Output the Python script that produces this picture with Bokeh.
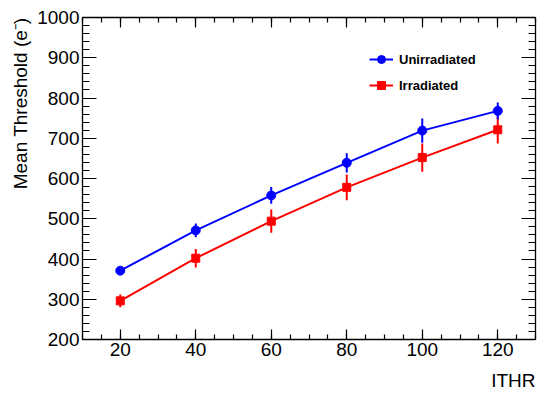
from bokeh.plotting import figure
from bokeh.models import (LinearAxis, SingleIntervalTicker, Title, Legend, LegendItem,
                          Range1d, ColumnDataSource)
from bokeh.embed import file_html
from bokeh.resources import INLINE

# ---- data ----
ithr = [20, 40, 60, 80, 100, 120]
unirr = [371, 471, 558, 639, 719, 768]
unirr_err = [9, 17, 21, 24, 30, 21]
irr = [296, 402, 494, 578, 652, 721]
irr_err = [16, 23, 29, 32, 35, 34]

x_tick_interval = 20
y_tick_interval = 100
x_label = "ITHR"
y_label = "Mean Threshold (e\u207b)"
series_names = ["Unirradiated", "Irradiated"]

FONT = "Liberation Sans"
BLUE = "#0000ff"
RED = "#ff0000"

p = figure(width=542, height=400, x_range=Range1d(10, 130), y_range=Range1d(200, 1000),
           output_backend="svg", toolbar_location=None,
           min_border_left=82, min_border_right=7, min_border_top=17, min_border_bottom=61,
           x_axis_type=None, y_axis_type=None)
p.grid.visible = False
p.outline_line_color = None
p.background_fill_color = "white"
p.border_fill_color = "white"


def style_axis(ax, tick_in, minor_in, show_labels, standoff=4):
    ax.axis_line_color = "black"
    ax.axis_line_width = 1.3
    ax.major_tick_line_color = "black"
    ax.minor_tick_line_color = "black"
    ax.major_tick_line_width = 1.2
    ax.minor_tick_line_width = 1.2
    ax.major_tick_in = tick_in
    ax.major_tick_out = 0
    ax.minor_tick_in = minor_in
    ax.minor_tick_out = 0
    ax.major_label_text_font = FONT
    ax.major_label_text_color = "black"
    if show_labels:
        ax.major_label_text_font_size = "19px"
        ax.major_label_standoff = standoff
    else:
        ax.major_label_text_font_size = "0px"
        ax.major_label_text_color = None
        ax.major_label_standoff = 0


xb = LinearAxis(ticker=SingleIntervalTicker(interval=x_tick_interval, num_minor_ticks=4))
style_axis(xb, 10, 5, True, 3)
p.add_layout(xb, "below")
xt = LinearAxis(ticker=SingleIntervalTicker(interval=x_tick_interval, num_minor_ticks=4))
style_axis(xt, 10, 5, False)
p.add_layout(xt, "above")
yl = LinearAxis(ticker=SingleIntervalTicker(interval=y_tick_interval, num_minor_ticks=5))
style_axis(yl, 14, 7, True, 3)
p.add_layout(yl, "left")
yr = LinearAxis(ticker=SingleIntervalTicker(interval=y_tick_interval, num_minor_ticks=5))
style_axis(yr, 14, 7, False)
p.add_layout(yr, "right")

p.add_layout(Title(text=y_label, align="right", text_font=FONT, text_font_size="19px",
                   text_font_style="normal", text_color="black", standoff=8), "left")
p.add_layout(Title(text=x_label, align="right", text_font=FONT, text_font_size="19px",
                   text_font_style="normal", text_color="black", standoff=19), "below")

items = []
for name, ys, errs, color, marker, msize in [
        (series_names[1], irr, irr_err, RED, "square", 8),
        (series_names[0], unirr, unirr_err, BLUE, "circle", 9)]:
    src = ColumnDataSource(dict(x=ithr, y=ys,
                                lo=[v - e for v, e in zip(ys, errs)],
                                hi=[v + e for v, e in zip(ys, errs)]))
    ln = p.line("x", "y", source=src, line_color=color, line_width=2)
    p.segment(x0="x", y0="lo", x1="x", y1="hi", source=src, line_color=color, line_width=2)
    sc = p.scatter("x", "y", source=src, marker=marker, size=msize,
                   fill_color=color, line_color=color)
    items.append(LegendItem(label=name, renderers=[ln, sc]))

items.reverse()
legend = Legend(items=items, location=(287, 244), orientation="vertical",
                padding=0, margin=0, spacing=6, glyph_width=24, glyph_height=20,
                label_height=20, label_standoff=6,
                label_text_font=FONT, label_text_font_size="13px",
                label_text_font_style="bold", label_text_color="black",
                border_line_color=None, background_fill_alpha=0)
p.add_layout(legend, "center")

open("out.html", "w").write(file_html(p, INLINE))
